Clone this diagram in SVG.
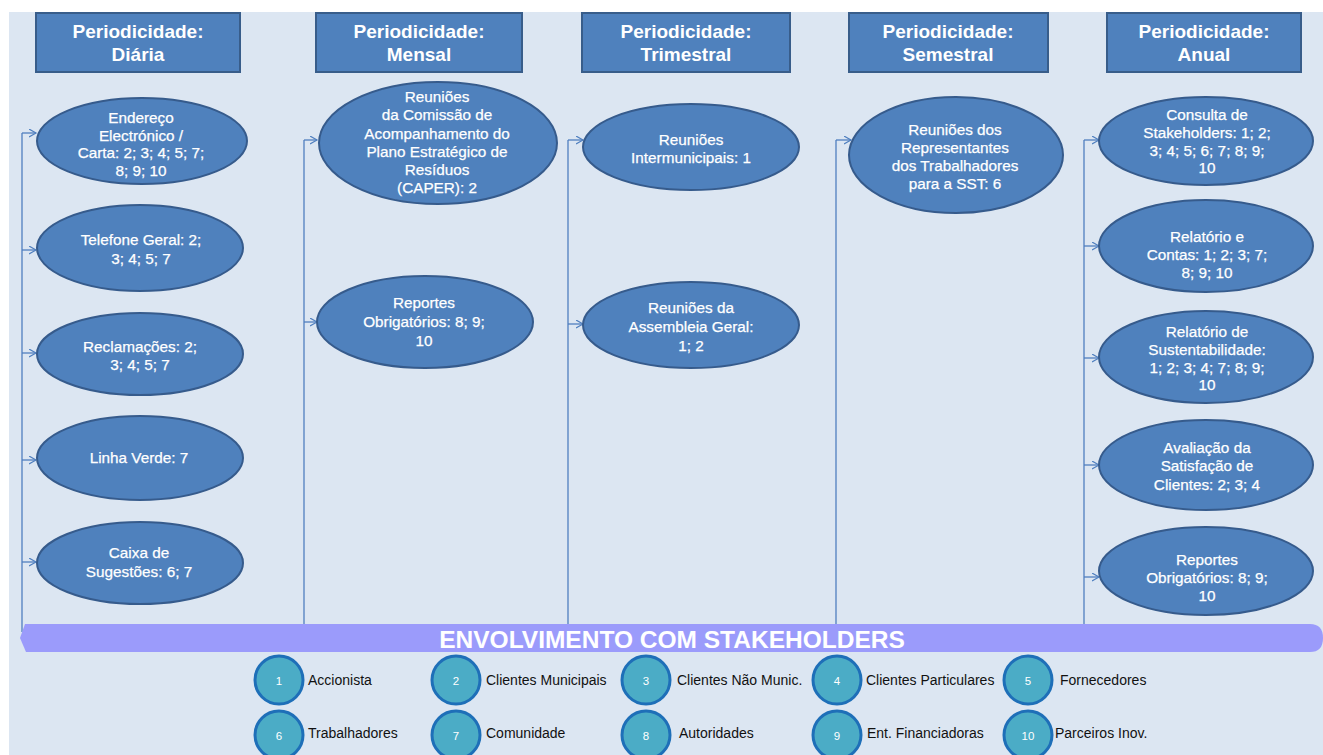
<svg xmlns="http://www.w3.org/2000/svg" width="1323" height="755" viewBox="0 0 1323 755">
<defs>
<marker id="arr" markerUnits="userSpaceOnUse" markerWidth="10" markerHeight="10" refX="7" refY="4" orient="auto">
<path d="M0,0 L7,4 L0,8" fill="none" stroke="#4f7fbf" stroke-width="1.2"/>
</marker>
<style>
.hdr{fill:#4f81bd;stroke:#385d8a;stroke-width:2}
.ht{font-family:"Liberation Sans",Arial,sans-serif;font-weight:bold;font-size:19px;fill:#fff;text-anchor:middle}
.el{fill:#4f81bd;stroke:#365b8c;stroke-width:2}
.et{font-family:"Liberation Sans",Arial,sans-serif;font-size:15.3px;fill:#fff;text-anchor:middle;stroke:#fff;stroke-width:0.25}
.cn{fill:none;stroke:#4f7fbf;stroke-width:1.3}
.ar{fill:none;stroke:#4f7fbf;stroke-width:1.3;marker-end:url(#arr)}
.lc{fill:#4bacc6;stroke:#1e6fb8;stroke-width:3}
.ln{font-family:"Liberation Sans",Arial,sans-serif;font-size:11.5px;fill:#fff;text-anchor:middle}
.lt{font-family:"Liberation Sans",Arial,sans-serif;font-size:14px;fill:#111}
</style>
</defs>
<rect x="0" y="0" width="1323" height="755" fill="#ffffff"/>
<rect x="9" y="12" width="1314" height="743" fill="#dce6f2"/>

<g id="connectors">
<path class="cn" d="M22,133 V632"/>
<path class="ar" d="M22,133 H36"/>
<path class="ar" d="M22,250 H36"/>
<path class="ar" d="M22,353 H36"/>
<path class="ar" d="M22,460 H36"/>
<path class="ar" d="M22,562 H36"/>
<path class="cn" d="M304,140 V632"/>
<path class="ar" d="M304,140 H317"/>
<path class="ar" d="M304,322 H317"/>
<path class="cn" d="M568,140 V632"/>
<path class="ar" d="M568,140 H583"/>
<path class="ar" d="M568,324 H583"/>
<path class="cn" d="M836,140 V632"/>
<path class="ar" d="M836,140 H851"/>
<path class="cn" d="M1084,140 V632"/>
<path class="ar" d="M1084,140 H1099"/>
<path class="ar" d="M1084,246 H1099"/>
<path class="ar" d="M1084,358 H1099"/>
<path class="ar" d="M1084,465 H1099"/>
<path class="ar" d="M1084,577 H1099"/>
</g>

<g id="h-diaria"><rect class="hdr" x="36" y="13" width="204" height="59"/><text class="ht" x="138" y="38">Periodicidade:</text><text class="ht" x="138" y="61">Diária</text></g>
<g id="h-mensal"><rect class="hdr" x="316" y="13" width="206" height="59"/><text class="ht" x="419" y="38">Periodicidade:</text><text class="ht" x="419" y="61">Mensal</text></g>
<g id="h-trimestral"><rect class="hdr" x="582" y="13" width="208" height="59"/><text class="ht" x="686" y="38">Periodicidade:</text><text class="ht" x="686" y="61">Trimestral</text></g>
<g id="h-semestral"><rect class="hdr" x="849" y="13" width="199" height="59"/><text class="ht" x="948" y="38">Periodicidade:</text><text class="ht" x="948" y="61">Semestral</text></g>
<g id="h-anual"><rect class="hdr" x="1107" y="13" width="194" height="59"/><text class="ht" x="1204" y="38">Periodicidade:</text><text class="ht" x="1204" y="61">Anual</text></g>

<g id="n-endereco"><ellipse class="el" cx="142" cy="141" rx="105" ry="43"/><text class="et" x="141" y="123">Endereço</text><text class="et" x="141" y="141">Electrónico /</text><text class="et" x="141" y="158">Carta: 2; 3; 4; 5; 7;</text><text class="et" x="141" y="176">8; 9; 10</text></g>
<g id="n-telefone"><ellipse class="el" cx="140" cy="248" rx="103" ry="43"/><text class="et" x="141" y="245">Telefone Geral: 2;</text><text class="et" x="141" y="264">3; 4; 5; 7</text></g>
<g id="n-reclamacoes"><ellipse class="el" cx="140" cy="354" rx="103" ry="41"/><text class="et" x="140" y="352">Reclamações: 2;</text><text class="et" x="140" y="370">3; 4; 5; 7</text></g>
<g id="n-linha"><ellipse class="el" cx="140" cy="458" rx="103" ry="42"/><text class="et" x="139" y="463">Linha Verde: 7</text></g>
<g id="n-caixa"><ellipse class="el" cx="140" cy="563" rx="103" ry="41"/><text class="et" x="139" y="558">Caixa  de</text><text class="et" x="139" y="577">Sugestões: 6; 7</text></g>

<g id="n-caper"><ellipse class="el" cx="438" cy="143" rx="119" ry="61"/><text class="et" x="437" y="102">Reuniões</text><text class="et" x="437" y="120">da Comissão de</text><text class="et" x="437" y="139">Acompanhamento do</text><text class="et" x="437" y="157">Plano Estratégico de</text><text class="et" x="437" y="175">Resíduos</text><text class="et" x="437" y="193">(CAPER): 2</text></g>
<g id="n-reportes-m"><ellipse class="el" cx="425" cy="322" rx="108" ry="46"/><text class="et" x="424" y="308">Reportes</text><text class="et" x="424" y="327">Obrigatórios: 8; 9;</text><text class="et" x="424" y="346">10</text></g>

<g id="n-intermunicipais"><ellipse class="el" cx="691" cy="147" rx="108" ry="43"/><text class="et" x="691" y="145">Reuniões</text><text class="et" x="691" y="163">Intermunicipais: 1</text></g>
<g id="n-assembleia"><ellipse class="el" cx="691" cy="325" rx="108" ry="43"/><text class="et" x="691" y="313">Reuniões da</text><text class="et" x="691" y="332">Assembleia Geral:</text><text class="et" x="691" y="351">1; 2</text></g>

<g id="n-sst"><ellipse class="el" cx="956" cy="155" rx="107" ry="58"/><text class="et" x="955" y="135">Reuniões dos</text><text class="et" x="955" y="153">Representantes</text><text class="et" x="955" y="171">dos Trabalhadores</text><text class="et" x="955" y="189">para a SST: 6</text></g>

<g id="n-consulta"><ellipse class="el" cx="1206" cy="141" rx="107" ry="44"/><text class="et" x="1207" y="120">Consulta de</text><text class="et" x="1207" y="138">Stakeholders: 1; 2;</text><text class="et" x="1207" y="156">3; 4; 5; 6; 7; 8; 9;</text><text class="et" x="1207" y="173">10</text></g>
<g id="n-relatorio-contas"><ellipse class="el" cx="1206" cy="246" rx="107" ry="46"/><text class="et" x="1207" y="242">Relatório e</text><text class="et" x="1207" y="260">Contas: 1; 2; 3; 7;</text><text class="et" x="1207" y="278">8; 9; 10</text></g>
<g id="n-sustentabilidade"><ellipse class="el" cx="1206" cy="357" rx="107" ry="46"/><text class="et" x="1207" y="337">Relatório de</text><text class="et" x="1207" y="355">Sustentabilidade:</text><text class="et" x="1207" y="373">1; 2; 3; 4; 7; 8; 9;</text><text class="et" x="1207" y="390">10</text></g>
<g id="n-avaliacao"><ellipse class="el" cx="1206" cy="465" rx="107" ry="45"/><text class="et" x="1207" y="453">Avaliação da</text><text class="et" x="1207" y="471">Satisfação de</text><text class="et" x="1207" y="490">Clientes: 2; 3; 4</text></g>
<g id="n-reportes-a"><ellipse class="el" cx="1206" cy="571" rx="107" ry="44"/><text class="et" x="1207" y="565">Reportes</text><text class="et" x="1207" y="583">Obrigatórios: 8; 9;</text><text class="et" x="1207" y="601">10</text></g>

<g id="bar">
<path d="M25,624 H1310 Q1323,624 1323,638 Q1323,652 1310,652 H26 L20,638 Z" fill="#9b9bfb"/>
<text x="672" y="648" font-family="'Liberation Sans',Arial,sans-serif" font-weight="bold" font-size="24.5" fill="#fff" text-anchor="middle">ENVOLVIMENTO COM STAKEHOLDERS</text>
</g>

<g id="legend">
<g id="l1"><circle class="lc" cx="279" cy="680" r="24"/><text class="ln" x="279" y="685">1</text><text class="lt" x="308" y="685">Accionista</text></g>
<g id="l2"><circle class="lc" cx="456" cy="680" r="24"/><text class="ln" x="456" y="685">2</text><text class="lt" x="486" y="685">Clientes Municipais</text></g>
<g id="l3"><circle class="lc" cx="646" cy="680" r="24"/><text class="ln" x="646" y="685">3</text><text class="lt" x="677" y="685">Clientes Não Munic.</text></g>
<g id="l4"><circle class="lc" cx="837" cy="680" r="24"/><text class="ln" x="837" y="685">4</text><text class="lt" x="866" y="685">Clientes Particulares</text></g>
<g id="l5"><circle class="lc" cx="1028" cy="680" r="24"/><text class="ln" x="1028" y="685">5</text><text class="lt" x="1060" y="685">Fornecedores</text></g>
<g id="l6"><circle class="lc" cx="279" cy="735" r="24"/><text class="ln" x="279" y="740">6</text><text class="lt" x="308" y="738">Trabalhadores</text></g>
<g id="l7"><circle class="lc" cx="456" cy="735" r="24"/><text class="ln" x="456" y="740">7</text><text class="lt" x="486" y="738">Comunidade</text></g>
<g id="l8"><circle class="lc" cx="646" cy="735" r="24"/><text class="ln" x="646" y="740">8</text><text class="lt" x="679" y="738">Autoridades</text></g>
<g id="l9"><circle class="lc" cx="837" cy="735" r="24"/><text class="ln" x="837" y="740">9</text><text class="lt" x="867" y="738">Ent. Financiadoras</text></g>
<g id="l10"><circle class="lc" cx="1028" cy="735" r="24"/><text class="ln" x="1028" y="740">10</text><text class="lt" x="1055" y="738">Parceiros Inov.</text></g>
</g>
</svg>
